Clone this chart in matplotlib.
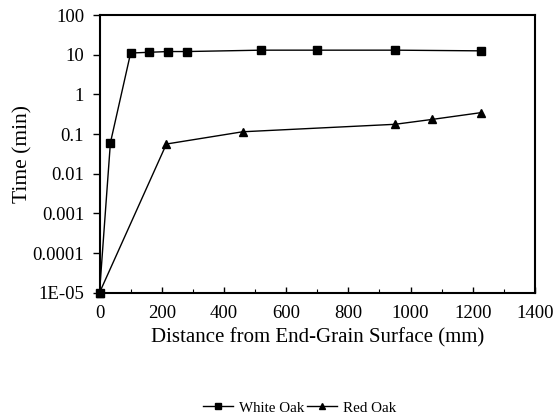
import numpy as np
import matplotlib
matplotlib.use("Agg")
import matplotlib.pyplot as plt
from matplotlib.ticker import FixedLocator, LogLocator, NullFormatter

plt.rcParams['font.family'] = ['Liberation Serif', 'DejaVu Serif']

# White Oak: distance (mm) vs time (min)
white_x = [0, 35, 100, 160, 220, 280, 520, 700, 950, 1225]
white_y = [1e-5, 0.06, 11, 11.5, 12, 12, 13, 13, 13, 12.5]

# Red Oak
red_x = [0, 215, 460, 950, 1070, 1225]
red_y = [1e-5, 0.056, 0.114, 0.176, 0.234, 0.345]

y_ticks = [1e-5, 1e-4, 1e-3, 1e-2, 1e-1, 1, 10, 100]
y_labels = ['1E-05', '0.0001', '0.001', '0.01', '0.1', '1', '10', '100']
x_ticks = [0, 200, 400, 600, 800, 1000, 1200, 1400]

fig = plt.figure(figsize=(5.55, 4.17), dpi=100)
ax = fig.add_axes([0.1793, 0.298, 0.7847, 0.666])

ax.plot(white_x, white_y, color='black', lw=1.0, marker='s', ms=6, label='White Oak', clip_on=False, zorder=3)
ax.plot(red_x, red_y, color='black', lw=1.0, marker='^', ms=6, label='Red Oak', clip_on=False, zorder=3)

ax.set_yscale('log')
ax.set_ylim(1e-5, 100)
ax.set_xlim(0, 1400)
ax.set_yticks(y_ticks)
ax.set_yticklabels(y_labels)
ax.yaxis.set_minor_locator(LogLocator(base=10, subs=np.arange(2, 10)))
ax.yaxis.set_minor_formatter(NullFormatter())
ax.set_xticks(x_ticks)
ax.xaxis.set_minor_locator(FixedLocator(np.arange(100, 1400, 200)))

ax.tick_params(axis='y', which='major', direction='out', length=5, width=1, labelsize=13.5, pad=6)
ax.tick_params(axis='y', which='minor', direction='out', length=3, width=0.8)
ax.tick_params(axis='x', which='major', direction='in', length=4, width=1, labelsize=13.5, pad=9)
ax.tick_params(axis='x', which='minor', direction='in', length=3, width=0.8)

for s in ax.spines.values():
    s.set_linewidth(1.5)
    s.set_color('black')

ax.set_xlabel('Distance from End-Grain Surface (mm)', fontsize=15, labelpad=4)
ax.set_ylabel('Time (min)', fontsize=15.5)
ax.yaxis.set_label_coords(-0.155, 0.5)

fig.legend(loc='center', bbox_to_anchor=(0.54, 0.022), ncol=2, frameon=False,
           fontsize=10.8, handlelength=2.0, columnspacing=0.2, handletextpad=0.4,
           markerscale=0.8)

fig.savefig('out.png', dpi=100)
